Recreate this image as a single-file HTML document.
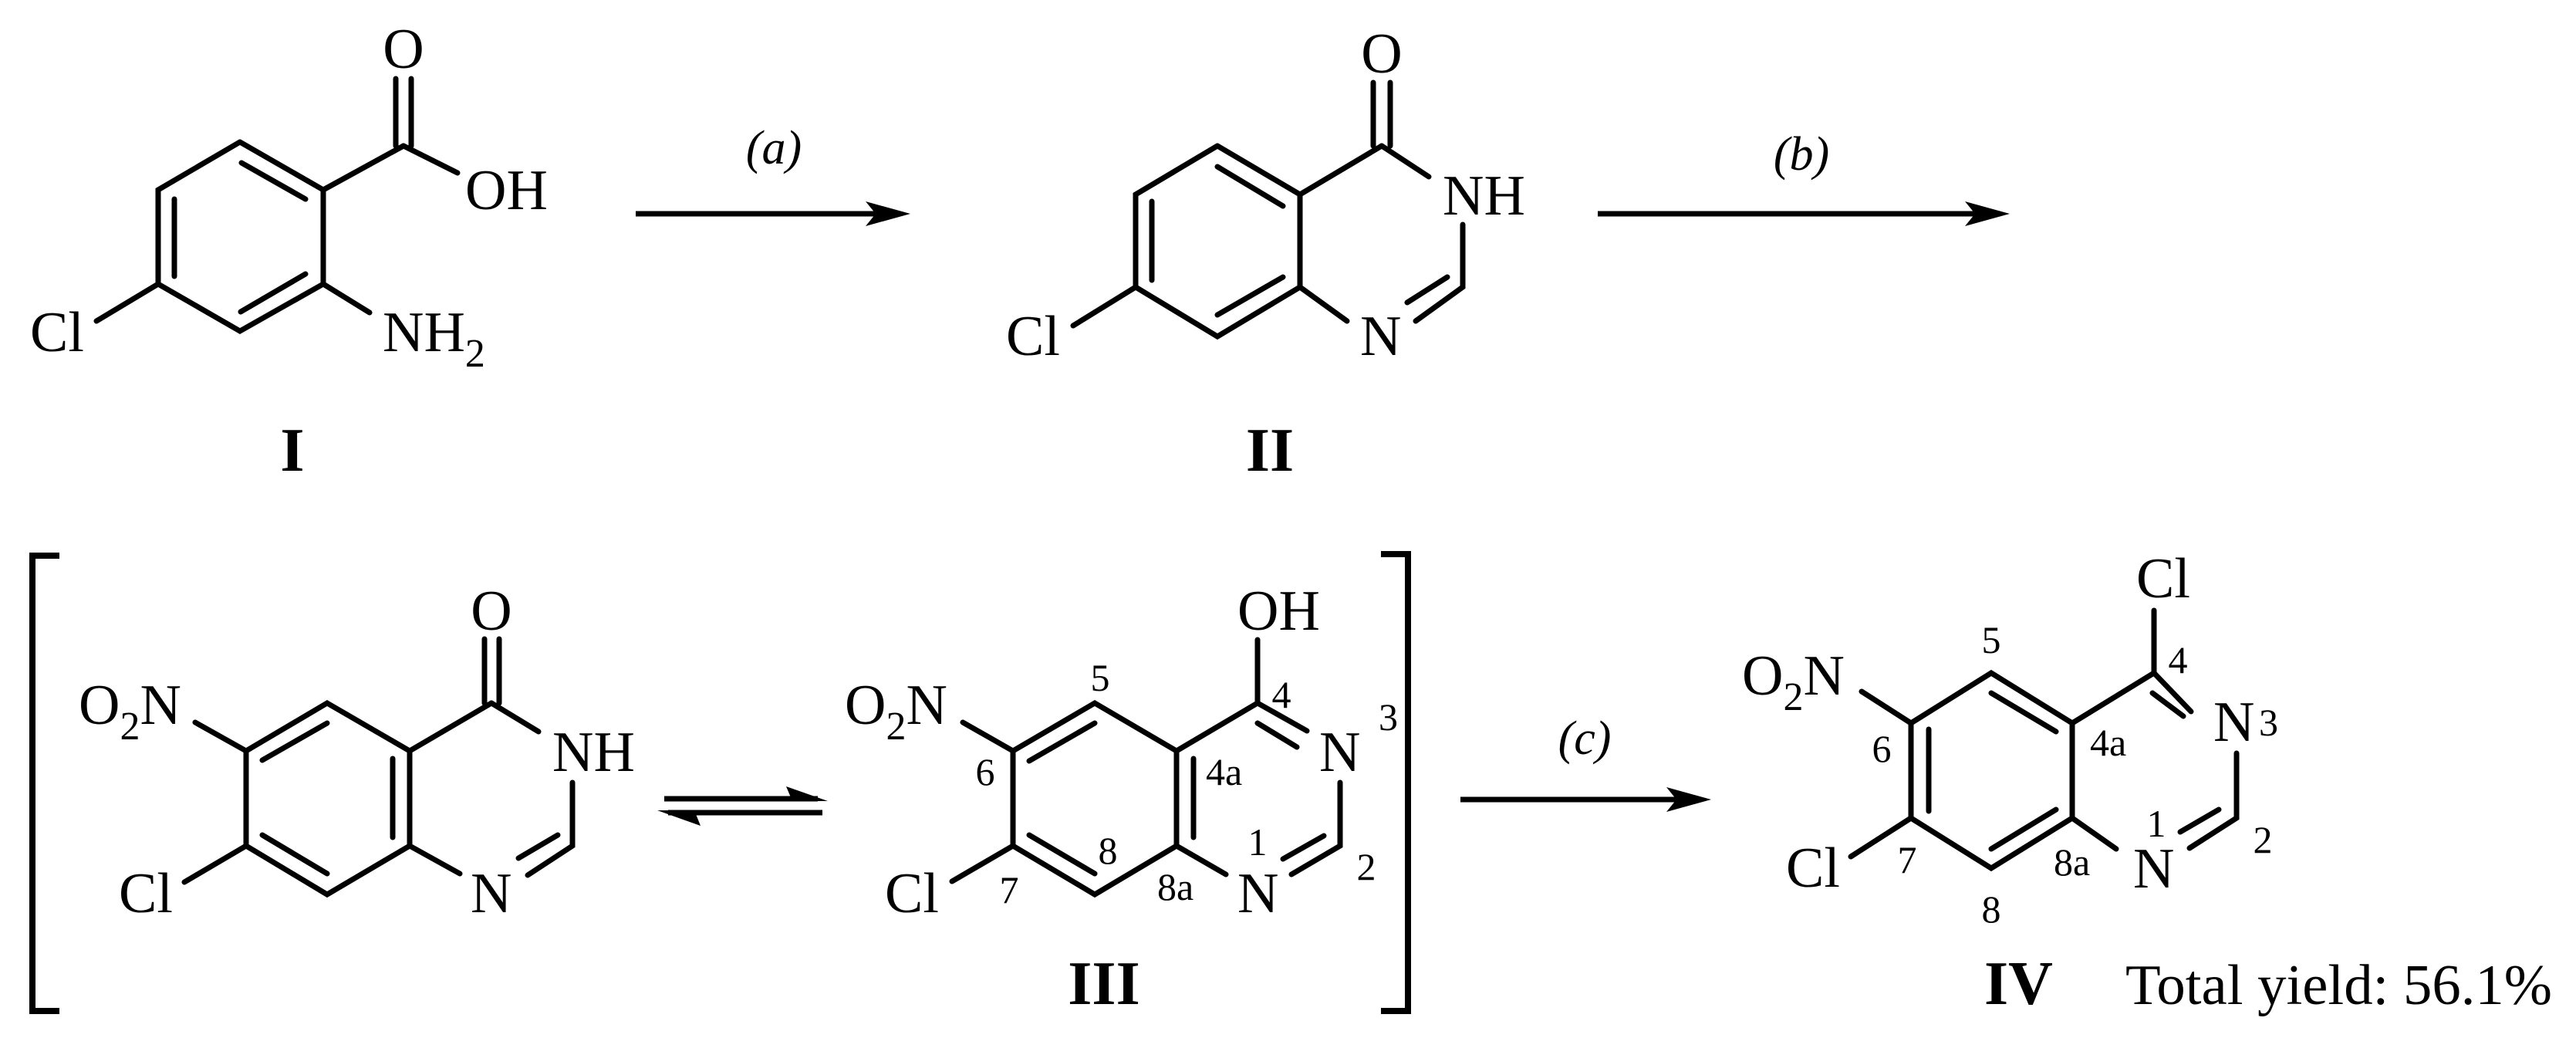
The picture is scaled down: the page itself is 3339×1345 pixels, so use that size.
<!DOCTYPE html>
<html><head><meta charset="utf-8"><style>
html,body{margin:0;padding:0;background:#fff;}
svg{display:block;}
text{font-family:"Liberation Serif",serif;fill:#000;}
.t{font-size:74px;}
.s{font-size:52px;}
.n{font-size:50px;}
.b{font-size:80px;font-weight:bold;}
.i{font-size:62px;font-style:italic;}
</style></head><body>
<svg width="3339" height="1345" viewBox="0 0 3339 1345" xmlns="http://www.w3.org/2000/svg">
<g stroke="#000" stroke-width="7" stroke-linecap="round" fill="none">
<!-- I -->
<polyline points="311,184 419,246 419,368 311,429 205,368 205,246 311,184"/>
<line x1="313" y1="211" x2="396" y2="258"/>
<line x1="226" y1="258" x2="226" y2="358"/>
<line x1="312" y1="404" x2="396" y2="355"/>
<line x1="419" y1="246" x2="523" y2="189"/>
<line x1="513" y1="189" x2="513" y2="102"/>
<line x1="533" y1="189" x2="533" y2="102"/>
<line x1="523" y1="189" x2="593" y2="224"/>
<line x1="419" y1="368" x2="479" y2="405"/>
<line x1="205" y1="368" x2="125" y2="416"/>
<!-- II -->
<polyline points="1578,189 1685,252 1685,372 1578,436 1472,372 1472,252 1578,189"/>
<line x1="1578" y1="216" x2="1663" y2="267"/>
<line x1="1493" y1="261" x2="1493" y2="363"/>
<line x1="1578" y1="408" x2="1663" y2="359"/>
<line x1="1685" y1="252" x2="1791" y2="189"/>
<line x1="1780" y1="189" x2="1780" y2="107"/>
<line x1="1802" y1="189" x2="1802" y2="107"/>
<line x1="1791" y1="189" x2="1852" y2="229"/>
<polyline points="1896,291 1896,372 1835,416"/>
<line x1="1876" y1="359" x2="1824" y2="392"/>
<line x1="1685" y1="372" x2="1746" y2="416"/>
<line x1="1472" y1="372" x2="1391" y2="422"/>
<!-- tautomer -->
<polyline points="319,973 424,911 531,973 531,1096 424,1159 319,1096 319,973"/>
<line x1="340" y1="985" x2="424" y2="937"/>
<line x1="509" y1="983" x2="509" y2="1085"/>
<line x1="340" y1="1082" x2="424" y2="1132"/>
<line x1="531" y1="973" x2="637" y2="911"/>
<line x1="628" y1="911" x2="628" y2="828"/>
<line x1="647" y1="911" x2="647" y2="828"/>
<line x1="637" y1="911" x2="698" y2="948"/>
<polyline points="742,1014 742,1096 684,1134"/>
<line x1="723" y1="1082" x2="672" y2="1112"/>
<line x1="531" y1="1096" x2="596" y2="1132"/>
<line x1="319" y1="973" x2="253" y2="936"/>
<line x1="319" y1="1096" x2="239" y2="1143"/>
<!-- III -->
<polyline points="1313,973 1419,911 1525,973 1525,1096 1419,1159 1313,1096 1313,973"/>
<line x1="1334" y1="986" x2="1419" y2="937"/>
<line x1="1547" y1="983" x2="1547" y2="1085"/>
<line x1="1334" y1="1082" x2="1419" y2="1132"/>
<line x1="1525" y1="973" x2="1630" y2="911"/>
<line x1="1630" y1="911" x2="1630" y2="829"/>
<line x1="1630" y1="911" x2="1694" y2="947"/>
<line x1="1630" y1="937" x2="1681" y2="968"/>
<polyline points="1737,1014 1737,1096 1674,1133"/>
<line x1="1716" y1="1083" x2="1663" y2="1113"/>
<line x1="1525" y1="1096" x2="1589" y2="1133"/>
<line x1="1313" y1="973" x2="1248" y2="936"/>
<line x1="1313" y1="1096" x2="1234" y2="1142"/>
<!-- IV -->
<polyline points="2477,937 2581,872 2686,937 2686,1060 2581,1125 2477,1060 2477,937"/>
<line x1="2581" y1="898" x2="2665" y2="948"/>
<line x1="2500" y1="945" x2="2500" y2="1051"/>
<line x1="2581" y1="1100" x2="2665" y2="1049"/>
<line x1="2686" y1="937" x2="2792" y2="872"/>
<line x1="2792" y1="872" x2="2792" y2="791"/>
<line x1="2792" y1="872" x2="2840" y2="922"/>
<line x1="2790" y1="898" x2="2830" y2="928"/>
<polyline points="2899,976 2899,1060 2838,1099"/>
<line x1="2876" y1="1049" x2="2826" y2="1078"/>
<line x1="2686" y1="1060" x2="2743" y2="1100"/>
<line x1="2477" y1="937" x2="2413" y2="896"/>
<line x1="2477" y1="1060" x2="2399" y2="1110"/>
</g>
<!-- arrows -->
<g stroke="#000" stroke-width="7" fill="none">
<line x1="824" y1="277" x2="1150" y2="277"/>
<line x1="2071" y1="277" x2="2575" y2="277"/>
<line x1="1893" y1="1036" x2="2190" y2="1036"/>
<line x1="861" y1="1035" x2="1060" y2="1035"/>
<line x1="866" y1="1053" x2="1066" y2="1053"/>
<polyline points="77,720 42,720 42,1310 77,1310" stroke-width="8"/>
<polyline points="1790,718 1825,718 1825,1310 1790,1310" stroke-width="8"/>
</g>
<g fill="#000">
<polygon points="1180,277 1122,261 1135,277 1122,293"/>
<polygon points="2605,277 2547,261 2560,277 2547,293"/>
<polygon points="2218,1036 2160,1020 2173,1036 2160,1052"/>
<polygon points="1073,1038 1019,1019 1027,1038"/>
<polygon points="852,1050 908,1070 900,1050"/>
</g>
<!-- text I -->
<text class="t" x="523" y="88" text-anchor="middle">O</text>
<text class="t" x="603" y="271">OH</text>
<text class="t" x="496" y="455">NH<tspan class="s" dy="20">2</tspan></text>
<text class="t" x="39" y="455">Cl</text>
<text class="b" x="379" y="610" text-anchor="middle">I</text>
<text class="i" x="1003" y="212" text-anchor="middle">(a)</text>
<!-- II -->
<text class="t" x="1791" y="94" text-anchor="middle">O</text>
<text class="t" x="1870" y="278">NH</text>
<text class="t" x="1763" y="460">N</text>
<text class="t" x="1304" y="460">Cl</text>
<text class="b" x="1646" y="610" text-anchor="middle">II</text>
<text class="i" x="2335" y="220" text-anchor="middle">(b)</text>
<!-- tautomer -->
<text class="t" x="637" y="816" text-anchor="middle">O</text>
<text class="t" x="716" y="999">NH</text>
<text class="t" x="610" y="1182">N</text>
<text class="t" x="102" y="938">O<tspan class="s" dy="20">2</tspan><tspan dy="-20">N</tspan></text>
<text class="t" x="154" y="1182">Cl</text>
<!-- III -->
<text class="t" x="1604" y="816">OH</text>
<text class="t" x="1710" y="999">N</text>
<text class="n" x="1787" y="946">3</text>
<text class="t" x="1604" y="1182">N</text>
<text class="t" x="1095" y="938">O<tspan class="s" dy="20">2</tspan><tspan dy="-20">N</tspan></text>
<text class="t" x="1147" y="1182">Cl</text>
<text class="n" x="1426" y="895" text-anchor="middle">5</text>
<text class="n" x="1661" y="917" text-anchor="middle">4</text>
<text class="n" x="1563" y="1017">4a</text>
<text class="n" x="1277" y="1017" text-anchor="middle">6</text>
<text class="n" x="1436" y="1119" text-anchor="middle">8</text>
<text class="n" x="1630" y="1108" text-anchor="middle">1</text>
<text class="n" x="1771" y="1140" text-anchor="middle">2</text>
<text class="n" x="1308" y="1170" text-anchor="middle">7</text>
<text class="n" x="1500" y="1166">8a</text>
<text class="b" x="1431" y="1301" text-anchor="middle">III</text>
<text class="i" x="2054" y="977" text-anchor="middle">(c)</text>
<!-- IV -->
<text class="t" x="2769" y="774">Cl</text>
<text class="t" x="2869" y="960">N</text>
<text class="n" x="2928" y="953">3</text>
<text class="t" x="2765" y="1150">N</text>
<text class="t" x="2258" y="900">O<tspan class="s" dy="20">2</tspan><tspan dy="-20">N</tspan></text>
<text class="t" x="2315" y="1149">Cl</text>
<text class="n" x="2581" y="846" text-anchor="middle">5</text>
<text class="n" x="2823" y="872" text-anchor="middle">4</text>
<text class="n" x="2709" y="979">4a</text>
<text class="n" x="2439" y="987" text-anchor="middle">6</text>
<text class="n" x="2795" y="1084" text-anchor="middle">1</text>
<text class="n" x="2933" y="1105" text-anchor="middle">2</text>
<text class="n" x="2472" y="1131" text-anchor="middle">7</text>
<text class="n" x="2662" y="1134">8a</text>
<text class="n" x="2581" y="1195" text-anchor="middle">8</text>
<text class="b" x="2572" y="1301">IV</text>
<text class="t" x="2755" y="1301" textLength="553" lengthAdjust="spacingAndGlyphs">Total yield: 56.1%</text>
</svg>
</body></html>
